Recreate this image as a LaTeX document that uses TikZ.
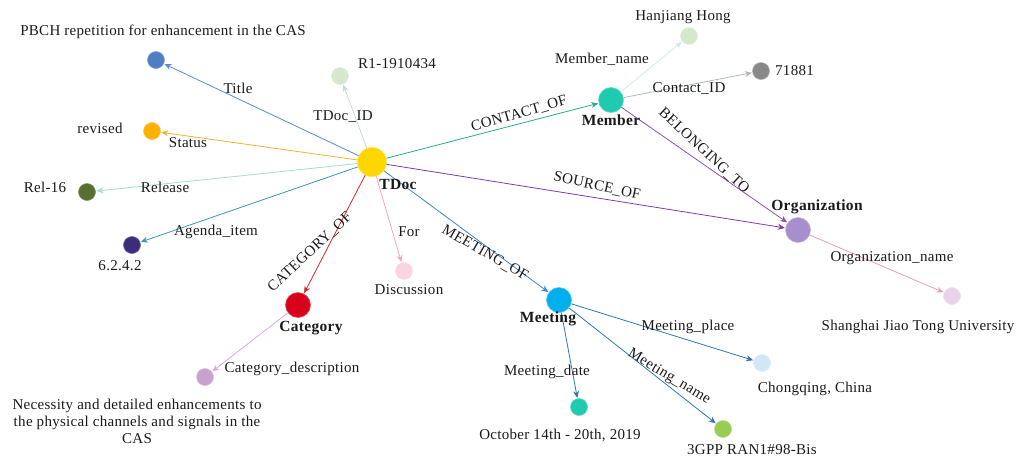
\documentclass[tikz,border=0pt]{standalone}
\usepackage{fontspec}
\setmainfont[LetterSpace=2]{Liberation Serif}
\usetikzlibrary{arrows.meta}

% entity colours
\definecolor{cTDoc}{HTML}{FFD700}
\definecolor{cTitle}{HTML}{4F7FC0}
\definecolor{cPale}{HTML}{D4E8CC}
\definecolor{cStatus}{HTML}{FFB000}
\definecolor{cRel}{HTML}{55702F}
\definecolor{cAgenda}{HTML}{3A2D7A}
\definecolor{cCat}{HTML}{D9001B}
\definecolor{cFor}{HTML}{FAD4E0}
\definecolor{cCatDesc}{HTML}{C8A2CC}
\definecolor{cMember}{HTML}{1FCBAF}
\definecolor{cGray}{HTML}{888888}
\definecolor{cOrg}{HTML}{A78FCC}
\definecolor{cOrgName}{HTML}{E8D4E8}
\definecolor{cMeeting}{HTML}{00B0EE}
\definecolor{cPlace}{HTML}{D0E8F6}
\definecolor{cName}{HTML}{99CC55}
% relation colours
\definecolor{eTitle}{HTML}{5A8CC8}
\definecolor{eId}{HTML}{C0E0C8}
\definecolor{eStatus}{HTML}{F0B030}
\definecolor{eRel}{HTML}{A8DCC4}
\definecolor{eAgenda}{HTML}{3A98B0}
\definecolor{eCat}{HTML}{D02A2A}
\definecolor{eFor}{HTML}{F0A8C0}
\definecolor{eMeet}{HTML}{3D85C6}
\definecolor{eSrc}{HTML}{7A3CB0}
\definecolor{eContact}{HTML}{2AAA8A}
\definecolor{eMname}{HTML}{D0ECDC}
\definecolor{eCid}{HTML}{B0B8B8}
\definecolor{eBelong}{HTML}{8A50B8}
\definecolor{eOrgName}{HTML}{E8A0B8}
\definecolor{eCatDesc}{HTML}{D8A8E0}
\definecolor{eMprop}{HTML}{2E75B6}
\definecolor{txt}{HTML}{1A1A1A}

\tikzset{
  ent/.style={circle, inner sep=0pt, draw=#1!70!white, line width=0.6pt, fill=#1},
  mid/.style={minimum size=25pt},
  small/.style={minimum size=17pt},
  lbl/.style={text=txt, font=\fontsize{15}{17}\selectfont, inner sep=0pt},
  blbl/.style={lbl, font=\fontsize{15.5}{17}\selectfont\bfseries},
  rel/.style={draw=#1, line width=0.8pt, -{Stealth[length=7pt,width=6pt]}, shorten >=0.5pt},
}

\begin{document}
\begin{tikzpicture}[x=1pt, y=-1pt]
\useasboundingbox (0,0) rectangle (1018,459);

% ---- entities ----
\node[ent=cTDoc, minimum size=29pt] (tdoc) at (372,162) {};
\node[ent=cTitle, small] (title) at (156,60) {};
\node[ent=cPale, small] (tid) at (340,76) {};
\node[ent=cStatus, small] (status) at (152,131) {};
\node[ent=cRel, small] (rel) at (87,192) {};
\node[ent=cAgenda, small] (agenda) at (132,245) {};
\node[ent=cCat, mid] (cat) at (298,305) {};
\node[ent=cFor, small] (for) at (404,271) {};
\node[ent=cCatDesc, small] (catdesc) at (205,377) {};
\node[ent=cMember, mid] (member) at (611,100) {};
\node[ent=cPale, small] (mname) at (689,36) {};
\node[ent=cGray, small] (cid) at (761,71) {};
\node[ent=cOrg, mid] (org) at (798,230) {};
\node[ent=cOrgName, small] (orgname) at (952,296) {};
\node[ent=cMeeting, mid] (meeting) at (559,300) {};
\node[ent=cPlace, small] (place) at (762,363) {};
\node[ent=cMember, small] (date) at (579,407) {};
\node[ent=cName, small] (mtname) at (723,429) {};

% ---- relations ----
\draw[rel=eTitle] (tdoc) -- (title);
\draw[rel=eId] (tdoc) -- (tid);
\draw[rel=eStatus] (tdoc) -- (status);
\draw[rel=eRel] (tdoc) -- (rel);
\draw[rel=eAgenda] (tdoc) -- (agenda);
\draw[rel=eCat] (tdoc) -- (cat);
\draw[rel=eFor] (tdoc) -- (for);
\draw[rel=eMeet] (tdoc) -- (meeting);
\draw[rel=eSrc] (tdoc) -- (org);
\draw[rel=eContact] (tdoc) -- (member);
\draw[rel=eMname] (member) -- (mname);
\draw[rel=eCid] (member) -- (cid);
\draw[rel=eBelong] (member) -- (org);
\draw[rel=eOrgName] (org) -- (orgname);
\draw[rel=eCatDesc] (cat) -- (catdesc);
\draw[rel=eMprop] (meeting) -- (place);
\draw[rel=eMprop] (meeting) -- (date);
\draw[rel=eMprop] (meeting) -- (mtname);

% ---- entity labels ----
\node[blbl] (tdocL) at (398,184) {TDoc};
\node[blbl] (catL) at (311,328) {Category};
\node[blbl] (memberL) at (611,120) {Member};
\node[blbl] (orgL) at (817,207) {Organization};
\node[blbl] (meetingL) at (548,319) {Meeting};

% ---- value labels ----
\node[lbl] (titleV) at (163,32) {PBCH repetition for enhancement in the CAS};
\node[lbl, anchor=west] (tidV) at (358,64) {R1-1910434};
\node[lbl] (statusV) at (100,128) {revised};
\node[lbl] (relV) at (45,187) {Rel-16};
\node[lbl] (agendaV) at (120,266) {6.2.4.2};
\node[lbl] (forV) at (409,290) {Discussion};
\node[lbl, align=center] (catdescV) at (137,421)
  {Necessity and detailed enhancements to\\the physical channels and signals in the\\CAS};
\node[lbl] (mnameV) at (683,17) {Hanjiang Hong};
\node[lbl, anchor=west] (cidV) at (775,71) {71881};
\node[lbl] (orgnameV) at (918,327) {Shanghai Jiao Tong University};
\node[lbl] (placeV) at (815,389) {Chongqing, China};
\node[lbl] (dateV) at (560,435) {October 14th - 20th, 2019};
\node[lbl] (mtnameV) at (752,450) {3GPP RAN1\#98-Bis};

% ---- relation labels ----
\node[lbl] (titleR) at (238,88) {Title};
\node[lbl] (tidR) at (343,117) {TDoc\_ID};
\node[lbl] (statusR) at (188,143) {Status};
\node[lbl] (relR) at (165,187) {Release};
\node[lbl] (agendaR) at (216,232) {Agenda\_item};
\node[lbl, rotate=43] (catR) at (310,252) {CATEGORY\_OF};
\node[lbl] (forR) at (409,232) {For};
\node[lbl] (catdescR) at (292,369) {Category\_description};
\node[lbl, rotate=-30] (meetR) at (485,253) {MEETING\_OF};
\node[lbl] (placeR) at (688,327) {Meeting\_place};
\node[lbl] (dateR) at (547,372) {Meeting\_date};
\node[lbl, rotate=-31] (mtnameR) at (669,377) {Meeting\_name};
\node[lbl, rotate=-12] (srcR) at (597,186) {SOURCE\_OF};
\node[lbl, rotate=16] (contactR) at (519,114) {CONTACT\_OF};
\node[lbl] (mnameR) at (602,59) {Member\_name};
\node[lbl] (cidR) at (689,88) {Contact\_ID};
\node[lbl, rotate=-43] (belongR) at (704,151) {BELONGING\_TO};
\node[lbl] (orgnameR) at (892,258) {Organization\_name};
\end{tikzpicture}
\end{document}
